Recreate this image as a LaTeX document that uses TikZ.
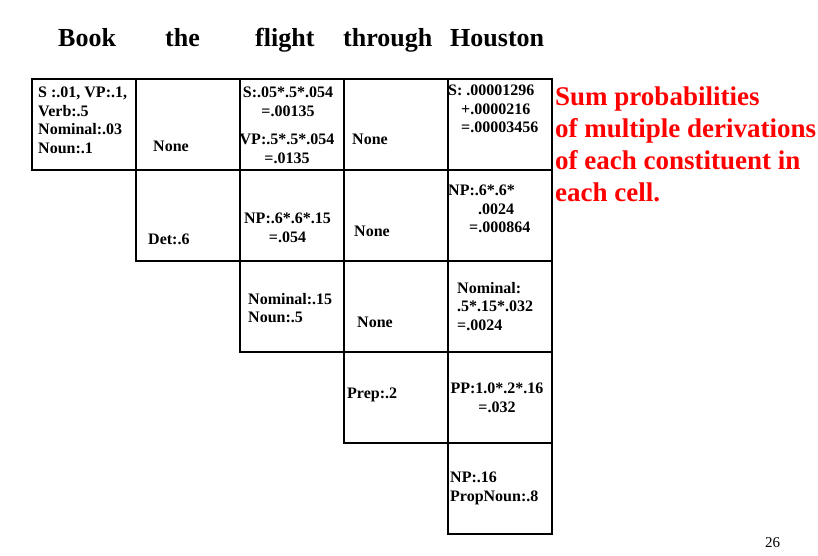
\documentclass[tikz,border=0pt]{standalone}
\usepackage{fontspec}
\setmainfont{Liberation Serif}
\usepackage{tikz}
\usetikzlibrary{positioning}
\definecolor{notered}{RGB}{255,0,0}
\tikzset{
  cell/.style={draw=black, line width=2pt, anchor=north west, inner sep=0pt,
    minimum width=104pt, minimum height=91pt},
  lbl/.style={anchor=north west, inner sep=0pt, align=left,
    font=\fontsize{16}{18.5}\selectfont\bfseries},
  clbl/.style={lbl, anchor=north, align=center},
  hdr/.style={anchor=base west, inner sep=0pt, font=\fontsize{26}{30}\selectfont\bfseries},
  note/.style={anchor=north west, inner sep=0pt, align=left, text=notered,
    font=\fontsize{27}{32}\selectfont\bfseries}
}
\begin{document}
\begin{tikzpicture}[x=1pt,y=-1pt]
\useasboundingbox (0,0) rectangle (818,556);
\node[hdr] (w1) at (58,47) {Book};
\node[hdr] (w2) at (165,47) {the};
\node[hdr] (w3) at (255,47) {flight};
\node[hdr] (w4) at (343,47) {through};
\node[hdr] (w5) at (450,47) {Houston};
\foreach \r in {1,...,5}
  \foreach \c in {\r,...,5}
    \node[cell] (c\r\c) at ({31+(\c-1)*104},{78+(\r-1)*91}) {};
\node[lbl] (t11) at (38,87) {S :.01, VP:.1,\\Verb:.5\\Nominal:.03\\Noun:.1};
\node[lbl] (t12) at (153,141) {None};
\node[clbl] (t13a) at (288,87) {S:.05*.5*.054\\=.00135};
\node[clbl] (t13b) at (287,134) {VP:.5*.5*.054\\=.0135};
\node[lbl] (t14) at (352,134) {None};
\node[lbl] (t15) at (448,85) {S: .00001296\\\hspace*{13pt}+.0000216\\\hspace*{13pt}=.00003456};
\node[lbl] (t22) at (148,234) {Det:.6};
\node[clbl] (t23) at (287.5,213) {NP:.6*.6*.15\\=.054};
\node[lbl] (t24) at (354,226) {None};
\node[lbl] (t25) at (448,185) {NP:.6*.6*\\\hspace*{30pt}.0024\\\hspace*{21pt}=.000864};
\node[lbl] (t33) at (248,293) {Nominal:.15\\Noun:.5};
\node[lbl] (t34) at (357,317) {None};
\node[lbl] (t35) at (457,282) {Nominal:\\.5*.15*.032\\=.0024};
\node[lbl] (t44) at (347,388) {Prep:.2};
\node[clbl] (t45) at (497,383) {PP:1.0*.2*.16\\=.032};
\node[lbl] (t55) at (450,472) {NP:.16\\PropNoun:.8};
\node[note] (sum) at (555,86.5) {Sum probabilities\\of multiple derivations\\of each constituent in\\each cell.};
\node[anchor=base west, inner sep=0pt, font=\fontsize{15}{18}\selectfont] (pg) at (765,547) {26};
\end{tikzpicture}
\end{document}
